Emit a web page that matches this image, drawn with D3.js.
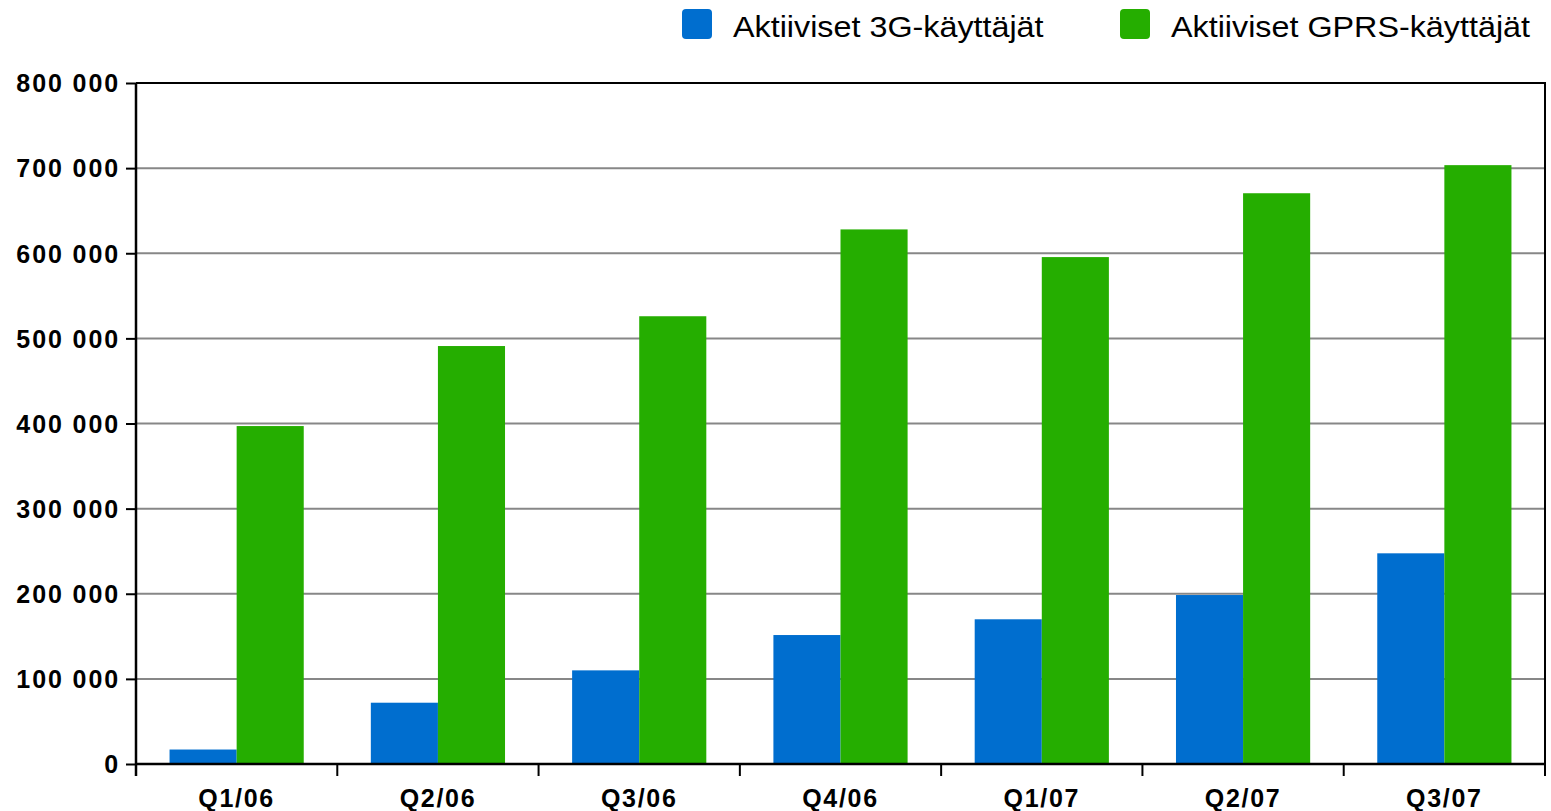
<!DOCTYPE html>
<html><head><meta charset="utf-8">
<script src="https://cdn.jsdelivr.net/npm/d3@7"></script>
<style>body{margin:0;background:#fff}svg{display:block}</style>
</head><body>
<svg id="c" width="1551" height="811"></svg>
<script>
const categories = ["Q1/06","Q2/06","Q3/06","Q4/06","Q1/07","Q2/07","Q3/07"];
const seriesNames = ["Aktiiviset 3G-käyttäjät","Aktiiviset GPRS-käyttäjät"];
const users3G = [17000, 72000, 110000, 151500, 170000, 198500, 247500];
const usersGPRS = [397000, 491000, 526000, 628000, 595500, 670500, 703500];
const yTicks = [0,100000,200000,300000,400000,500000,600000,700000,800000];
const colors = ["#006ecf","#25ae00"];

const svg = d3.select("#c");
const L=136, R=1545, T=83, B=764;
const FONT="Liberation Sans, Arial, sans-serif";
const x = d3.scaleBand().domain(categories).range([L,R]).paddingInner(0).paddingOuter(0);
const inner = d3.scaleBand().domain([0,1]).range([0,x.bandwidth()]).paddingOuter(0.5).paddingInner(0);
const y = d3.scaleLinear().domain([0,800000]).range([B,T]);
const fmt = v => d3.format(",")(v).replace(/,/g," ");

// grid
svg.append("g").selectAll("line").data(yTicks.slice(1,-1)).join("line")
  .attr("x1",L).attr("x2",R).attr("y1",d=>y(d)).attr("y2",d=>y(d))
  .attr("stroke","#878787").attr("stroke-width",2);

// bars
const series=[users3G,usersGPRS];
series.forEach((vals,si)=>{
  svg.append("g").selectAll("rect").data(vals).join("rect")
    .attr("x",(d,i)=>x(categories[i])+inner(si))
    .attr("width",inner.bandwidth())
    .attr("y",d=>y(d)).attr("height",d=>B-y(d))
    .attr("fill",colors[si]);
});

// frame top/right
svg.append("line").attr("x1",L).attr("x2",R+1).attr("y1",T).attr("y2",T).attr("stroke","#000").attr("stroke-width",2);
svg.append("line").attr("x1",R).attr("x2",R).attr("y1",T).attr("y2",B).attr("stroke","#000").attr("stroke-width",2);

// y axis
const ya = svg.append("g").attr("transform",`translate(${L},0)`)
  .call(d3.axisLeft(y).tickValues(yTicks).tickFormat(fmt).tickSize(10).tickPadding(6));
ya.select(".domain").attr("stroke","#000").attr("stroke-width",2.5).attr("d",`M0,${T}V${B+12}`);
ya.selectAll(".tick line").attr("stroke","#000").attr("stroke-width",2);
ya.selectAll("text").attr("font-family",FONT).attr("font-weight","bold")
  .attr("font-size",25).attr("letter-spacing",1.9).attr("fill","#000").attr("dy","0.35em");

// x axis
const xa = svg.append("g").attr("transform",`translate(0,${B})`)
  .call(d3.axisBottom(x).tickSize(0).tickPadding(25));
xa.select(".domain").attr("stroke","#000").attr("stroke-width",2.5).attr("d",`M${L},0H${R+1}`);
xa.selectAll("text").attr("font-family",FONT).attr("font-weight","bold")
  .attr("font-size",25).attr("letter-spacing",1.7).attr("fill","#000");
svg.append("g").selectAll("line").data(categories.concat(["end"])).join("line")
  .attr("x1",(d,i)=>i<categories.length?x(d):R).attr("x2",(d,i)=>i<categories.length?x(d):R)
  .attr("y1",B).attr("y2",B+12).attr("stroke","#000").attr("stroke-width",2);

// legend
const legX=[682,1120];
const lg = svg.append("g").selectAll("g").data(seriesNames).join("g")
  .attr("transform",(d,i)=>`translate(${legX[i]},9)`);
lg.append("rect").attr("width",30).attr("height",30).attr("rx",4).attr("fill",(d,i)=>colors[i]);
lg.append("text").attr("x",51).attr("y",28).attr("font-family",FONT)
  .attr("font-size",29.5).attr("fill","#000").text(d=>d)
  .each(function(){ const w=this.getComputedTextLength(); d3.select(this).attr("textLength",w*1.095).attr("lengthAdjust","spacingAndGlyphs"); });
</script>
</body></html>
